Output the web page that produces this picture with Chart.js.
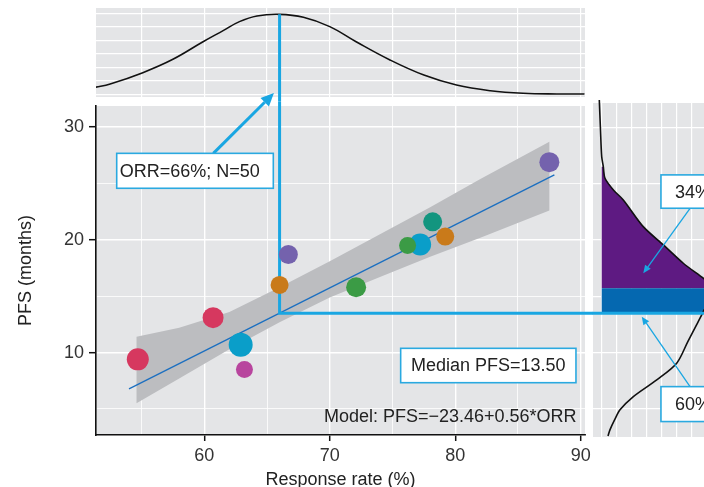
<!DOCTYPE html>
<html lang="en">
<head>
<meta charset="UTF-8" />
<title>Response rate vs PFS</title>
<script src="https://cdn.jsdelivr.net/npm/chart.js"></script>
<style>
  html, body { margin: 0; padding: 0; background: #fff; }
  #wrap { position: relative; width: 704px; height: 487px; overflow: hidden; }
  #wrap canvas { position: absolute; left: 0; top: 0; }
</style>
</head>
<body>
<div id="wrap">
  <canvas id="orrPanel" width="704" height="487"></canvas>
  <canvas id="mainPanel" width="704" height="487"></canvas>
  <canvas id="pfsPanel" width="704" height="487"></canvas>
</div>

<script>
  // trials: objective response rate (%) and median PFS (months)
  const orr = [54.7, 60.7, 62.9, 63.2, 66.0, 66.7, 72.1, 77.2, 76.2, 78.2, 79.2, 87.5];
  const pfs = [9.4, 13.1, 10.7, 8.5, 16.0, 18.7, 15.8, 19.6, 19.5, 21.6, 20.3, 26.9];

  // fitted model and its confidence band
  const modelIntercept = -23.46;
  const modelSlope = 0.56;
  const fitRange = [54.0, 87.9];
  const bandX = [54.6, 58, 62, 66, 70, 74, 78, 82, 87.5];
  const bandUpper = [11.4, 12.2, 13.6, 15.8, 18.1, 20.5, 22.9, 25.4, 28.7];
  const bandLower = [5.5, 7.7, 10.3, 12.7, 14.9, 16.7, 18.5, 20.2, 22.6];

  // new trial: ORR and predicted median PFS
  const orrCut = 66;
  const medianPfs = 13.5;

  // density of ORR (top margin)
  const orrGrid = [51.3, 52.5, 55.1, 57.5, 59.9, 61.5, 62.8, 64.2, 66.0, 67.9, 70.0, 72.1, 74.8, 77.5, 80.1, 82.8, 85.4, 88.1, 90.3];
  const orrDensity = [0.53, 0.78, 1.62, 2.61, 3.91, 4.73, 5.40, 5.82, 5.94, 5.72, 5.03, 3.91, 2.56, 1.44, 0.70, 0.28, 0.09, 0.04, 0.04];

  // density of predicted PFS (right margin)
  const pfsGrid = [2.6, 3.14, 4.0, 4.92, 6.1, 7.58, 9.06, 11.0, 12.5, 13.43, 13.64, 14.1, 14.9, 15.71, 16.6, 17.93, 19.56, 21.18, 23.55, 24.43, 25.47, 26.5, 27.39, 29.76, 32.42];
  const pfsDensity = [0.42, 0.55, 0.85, 1.22, 2.11, 3.67, 5.0, 5.75, 6.34, 6.7, 6.77, 7.0, 7.5, 7.6, 6.77, 5.44, 4.11, 2.77, 1.44, 0.78, 0.22, 0.107, 0, -0.08, -0.16];
  const bandLow = 13.43;   // 60% region
  const bandHigh = 15.71;  // 34% region starts here
  const tailTop = 26.5;

  // marker styling per trial
  const pointColors = ['#d6385f', '#d6385f', '#0a9ec9', '#b8459e', '#c97a1a', '#7462ad',
                       '#3b9b45', '#0a9ec9', '#3b9b45', '#13957f', '#c97a1a', '#7462ad'];
  const pointRadii = [11, 10.5, 12, 8.5, 9, 9.5, 10, 11, 8.5, 9.5, 9, 10];

  const family = '"Liberation Sans", Arial, Helvetica, sans-serif';
  const panelGray = '#e4e5e7';
  const refBlue = '#19a6e2';
  const boxBlue = '#2aa9e0';
  Chart.defaults.font.family = family;
  Chart.defaults.font.size = 18;

  const panelBg = {
    id: 'panelBg',
    beforeDraw(chart, args, opts) {
      const { ctx, chartArea: a } = chart;
      ctx.save();
      ctx.fillStyle = opts.color;
      ctx.fillRect(a.left, a.top, a.right - a.left, a.bottom - a.top);
      ctx.restore();
    }
  };

  function drawArrow(ctx, x0, y0, x1, y1, width, headLen, headHalf) {
    const ang = Math.atan2(y1 - y0, x1 - x0);
    const bx = x1 - headLen * Math.cos(ang);
    const by = y1 - headLen * Math.sin(ang);
    ctx.save();
    ctx.strokeStyle = refBlue;
    ctx.fillStyle = refBlue;
    ctx.lineWidth = width;
    ctx.beginPath();
    ctx.moveTo(x0, y0);
    ctx.lineTo(bx, by);
    ctx.stroke();
    ctx.beginPath();
    ctx.moveTo(x1, y1);
    ctx.lineTo(bx + headHalf * Math.sin(ang), by - headHalf * Math.cos(ang));
    ctx.lineTo(bx - headHalf * Math.sin(ang), by + headHalf * Math.cos(ang));
    ctx.closePath();
    ctx.fill();
    ctx.restore();
  }

  function drawBox(ctx, x1, y1, x2, y2, text, textX) {
    ctx.save();
    ctx.fillStyle = '#fff';
    ctx.fillRect(x1, y1, x2 - x1, y2 - y1);
    ctx.strokeStyle = boxBlue;
    ctx.lineWidth = 1.6;
    ctx.strokeRect(x1, y1, x2 - x1, y2 - y1);
    ctx.fillStyle = '#222';
    ctx.font = '18px ' + family;
    ctx.textBaseline = 'middle';
    if (textX === undefined) {
      ctx.textAlign = 'center';
      ctx.fillText(text, (x1 + x2) / 2, (y1 + y2) / 2 + 1);
    } else {
      ctx.textAlign = 'left';
      ctx.fillText(text, textX, (y1 + y2) / 2 + 1);
    }
    ctx.restore();
  }

  const xTicks = [55, 60, 65, 70, 75, 80, 85, 90];
  const yTicks = [5, 10, 15, 20, 25, 30];
  const isMajor = v => v % 10 === 0;

  // ---------- top margin: ORR density ----------
  const orrPeak = orrDensity[orrGrid.indexOf(orrCut)];
  new Chart(document.getElementById('orrPanel'), {
    type: 'scatter',
    plugins: [panelBg],
    data: {
      datasets: [
        {
          data: [{ x: orrCut, y: orrPeak }, { x: orrCut, y: -0.48 }],
          showLine: true, borderColor: refBlue, borderWidth: 3, pointRadius: 0, clip: false
        },
        {
          data: orrGrid.map((x, i) => ({ x, y: orrDensity[i] })),
          showLine: true, borderColor: '#111', borderWidth: 1.6, pointRadius: 0, tension: 0.4
        }
      ]
    },
    options: {
      responsive: false, animation: false, devicePixelRatio: 1,
      layout: { padding: { left: 96, top: 8, right: 119, bottom: 390 } },
      plugins: { legend: { display: false }, tooltip: { enabled: false }, panelBg: { color: panelGray } },
      scales: {
        x: {
          type: 'linear', min: 51.37, max: 90.34,
          afterBuildTicks: s => { s.ticks = xTicks.map(v => ({ value: v })); },
          afterFit: s => { s.height = 0; },
          ticks: { display: false },
          grid: { color: '#fff', lineWidth: 1.2, drawTicks: false },
          border: { display: false }
        },
        y: {
          type: 'linear', min: -0.185, max: 6.41,
          afterBuildTicks: s => { s.ticks = [0, 1, 2, 3, 4, 5, 6].map(v => ({ value: v })); },
          afterFit: s => { s.width = 0; },
          ticks: { display: false },
          grid: { color: '#fff', lineWidth: 1.2, drawTicks: false },
          border: { display: false }
        }
      }
    }
  });

  // ---------- main panel: ORR vs PFS ----------
  const mainNotes = {
    id: 'mainNotes',
    afterDatasetsDraw(chart) {
      const { ctx } = chart;
      const sx = chart.scales.x, sy = chart.scales.y;
      const px = v => sx.getPixelForValue(v);
      const py = v => sy.getPixelForValue(v);

      drawArrow(ctx, px(60.72), py(27.68), px(65.55), py(33.03), 3, 13, 6);
      drawBox(ctx, px(53.02), py(27.68), px(65.5), py(24.58), 'ORR=' + orrCut + '%; N=50', px(53.02) + 3);
      drawBox(ctx, px(75.65), py(10.38), px(89.62), py(7.33), 'Median PFS=' + medianPfs.toFixed(2));

      ctx.save();
      ctx.fillStyle = '#222';
      ctx.font = '18px ' + family;
      ctx.textAlign = 'right';
      ctx.textBaseline = 'alphabetic';
      ctx.fillText('Model: PFS=\u2212' + Math.abs(modelIntercept).toFixed(2) + '+' + modelSlope.toFixed(2) + '*ORR', px(89.67), py(3.87));
      ctx.restore();
    }
  };

  const bandPolygon = bandX.map((x, i) => ({ x, y: bandUpper[i] }))
    .concat(bandX.map((x, i) => ({ x, y: bandLower[i] })).reverse());

  new Chart(document.getElementById('mainPanel'), {
    type: 'scatter',
    plugins: [panelBg, mainNotes],
    data: {
      datasets: [
        {
          data: orr.map((x, i) => ({ x, y: pfs[i] })),
          pointRadius: pointRadii, pointHoverRadius: pointRadii,
          pointBackgroundColor: pointColors, pointBorderWidth: 0, order: 1
        },
        {
          data: [{ x: orrCut, y: 32.3 }, { x: orrCut, y: medianPfs }, { x: 91.1, y: medianPfs }],
          showLine: true, borderColor: refBlue, borderWidth: 3, pointRadius: 0, clip: false, order: 2
        },
        {
          data: fitRange.map(x => ({ x, y: modelIntercept + modelSlope * x })),
          showLine: true, borderColor: '#1b6fc0', borderWidth: 1.3, pointRadius: 0, order: 3
        },
        {
          data: bandPolygon,
          showLine: true, fill: 'shape', backgroundColor: '#bcbdc0',
          borderColor: 'transparent', borderWidth: 0, pointRadius: 0, order: 4
        }
      ]
    },
    options: {
      responsive: false, animation: false, devicePixelRatio: 1,
      layout: { padding: { left: 0, top: 106, right: 119, bottom: 0 } },
      plugins: { legend: { display: false }, tooltip: { enabled: false }, panelBg: { color: panelGray } },
      scales: {
        x: {
          type: 'linear', min: 51.37, max: 90.34,
          afterBuildTicks: s => { s.ticks = xTicks.map(v => ({ value: v })); },
          afterFit: s => { s.height = 52; },
          ticks: {
            callback: v => isMajor(v) ? String(v) : '',
            color: '#333', padding: 4, maxRotation: 0, autoSkip: false
          },
          grid: {
            color: '#fff',
            lineWidth: c => isMajor(c.tick.value) ? 1.4 : 0.8,
            tickLength: 6, tickWidth: 1.5,
            tickColor: c => isMajor(c.tick.value) ? '#111' : 'rgba(0,0,0,0)'
          },
          border: { display: true, color: '#111', width: 1.6 },
          title: { display: true, text: 'Response rate (%)', color: '#222', padding: { top: 0, bottom: -4 } }
        },
        y: {
          type: 'linear', min: 2.69, max: 31.88,
          afterBuildTicks: s => { s.ticks = yTicks.map(v => ({ value: v })); },
          afterFit: s => { s.width = 96; },
          ticks: {
            callback: v => isMajor(v) ? String(v) : '',
            color: '#333', padding: 5, autoSkip: false
          },
          grid: {
            color: '#fff',
            lineWidth: c => isMajor(c.tick.value) ? 1.4 : 0.8,
            tickLength: 7, tickWidth: 1.5,
            tickColor: c => isMajor(c.tick.value) ? '#111' : 'rgba(0,0,0,0)'
          },
          border: { display: true, color: '#111', width: 1.6 },
          title: { display: true, text: 'PFS (months)', color: '#222', padding: { top: 15, bottom: 0 } }
        }
      }
    }
  });

  // ---------- right margin: predicted PFS density ----------
  const pfsNotes = {
    id: 'pfsNotes',
    afterDatasetsDraw(chart) {
      const { ctx } = chart;
      const sx = chart.scales.x, sy = chart.scales.y;
      const px = v => sx.getPixelForValue(v);
      const py = v => sy.getPixelForValue(v);

      drawArrow(ctx, px(5.89), py(22.8), px(2.77), py(17.04), 1.3, 8, 3.5);
      drawBox(ctx, px(3.95), py(25.77), px(3.95) + 80, py(22.81), '34%', px(3.95) + 14);
      drawArrow(ctx, px(5.89), py(6.98), px(2.67), py(13.19), 1.3, 8, 3.5);
      drawBox(ctx, px(3.95), py(6.98), px(3.95) + 80, py(3.88), '60%', px(3.95) + 14);
    }
  };

  function regionShape(lo, hi) {
    const pts = [{ x: 0, y: lo }];
    pfsGrid.forEach((y, i) => { if (y >= lo && y <= hi) pts.push({ x: pfsDensity[i], y }); });
    pts.push({ x: 0, y: hi });
    return pts;
  }

  new Chart(document.getElementById('pfsPanel'), {
    type: 'scatter',
    plugins: [panelBg, pfsNotes],
    data: {
      datasets: [
        {
          data: [{ x: -0.6, y: medianPfs }, { x: 7.5, y: medianPfs }],
          showLine: true, borderColor: refBlue, borderWidth: 3, pointRadius: 0, clip: false, order: 1
        },
        {
          data: pfsGrid.map((y, i) => ({ x: pfsDensity[i], y })),
          showLine: true, borderColor: '#111', borderWidth: 1.6, pointRadius: 0, tension: 0.3, clip: false, order: 2
        },
        {
          data: regionShape(bandLow, bandHigh),
          showLine: true, fill: 'shape', backgroundColor: '#0568b0',
          borderColor: 'transparent', borderWidth: 0, pointRadius: 0, order: 3
        },
        {
          data: regionShape(bandHigh, tailTop),
          showLine: true, fill: 'shape', backgroundColor: '#5e1a82',
          borderColor: 'transparent', borderWidth: 0, pointRadius: 0, order: 4
        }
      ]
    },
    options: {
      responsive: false, animation: false, devicePixelRatio: 1,
      layout: { padding: { left: 593, top: 103, right: 0, bottom: 50 } },
      plugins: { legend: { display: false }, tooltip: { enabled: false }, panelBg: { color: panelGray } },
      scales: {
        x: {
          type: 'linear', min: -0.58, max: 6.82,
          afterBuildTicks: s => { s.ticks = [0, 1, 2, 3, 4, 5, 6].map(v => ({ value: v })); },
          afterFit: s => { s.height = 0; },
          ticks: { display: false },
          grid: { color: '#fff', lineWidth: 1.2, drawTicks: false },
          border: { display: false }
        },
        y: {
          type: 'linear', min: 2.51, max: 32.15,
          afterBuildTicks: s => { s.ticks = yTicks.map(v => ({ value: v })); },
          afterFit: s => { s.width = 0; },
          ticks: { display: false },
          grid: { color: '#fff', lineWidth: 1.2, drawTicks: false },
          border: { display: false }
        }
      }
    }
  });
</script>
</body>
</html>
